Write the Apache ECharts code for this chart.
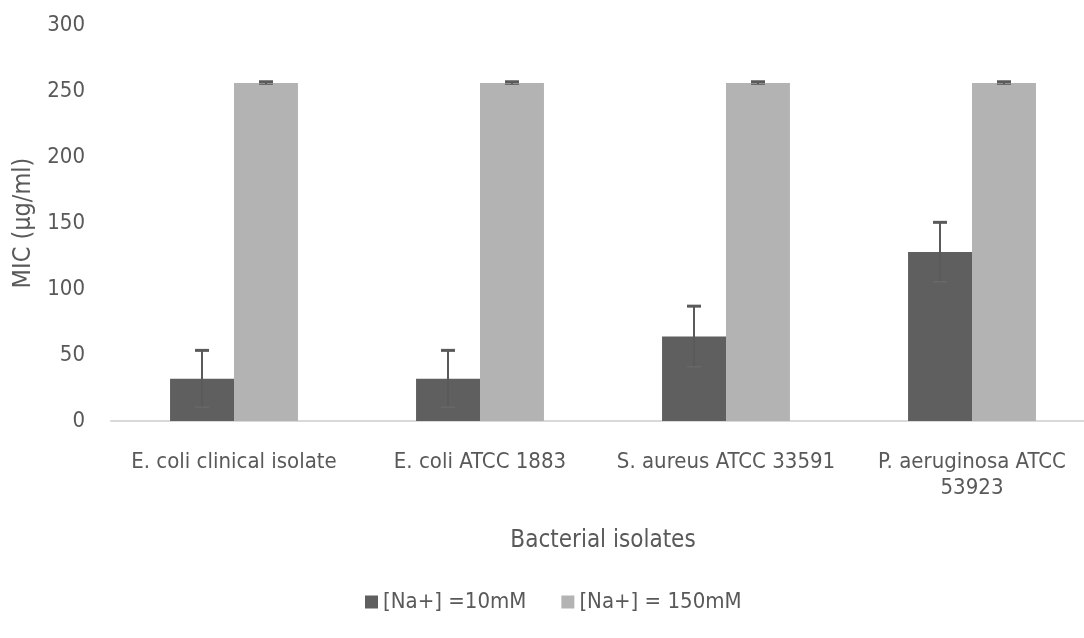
<!DOCTYPE html>
<html>
<head>
<meta charset="utf-8">
<script src="https://cdn.jsdelivr.net/npm/echarts@6/dist/echarts.min.js"></script>
<style>html,body{margin:0;padding:0;background:#fff}#c{width:1084px;height:638px}</style>
</head>
<body>
<div id="c"></div>
<script>
const categories = ['E. coli clinical isolate', 'E. coli ATCC 1883', 'S. aureus ATCC 33591', 'P. aeruginosa ATCC 53923'];
const seriesNames = ['[Na+] =10mM', '[Na+] = 150mM'];
const mic10 = [32, 32, 64, 128];
const err10 = [21.5, 21.5, 23, 22.5];
const mic150 = [256, 256, 256, 256];
const err150 = [1, 1, 1, 1];
const yTicks = [0, 50, 100, 150, 200, 250, 300];

const FONT = "'Liberation Sans Narrow','Arial Narrow','DejaVu Sans Condensed',sans-serif";
const TXT = '#595959';

function errData(vals, errs) {
  return vals.map((v, i) => [i, v - errs[i], v + errs[i]]);
}
function errSeries(vals, errs, side) {
  return {
    type: 'custom',
    z: 10,
    silent: true,
    encode: { x: 0, y: [1, 2] },
    data: errData(vals, errs),
    renderItem: function (params, api) {
      const band = api.size([1, 0])[0];
      const off = side * band * 0.13;
      const hi = api.coord([api.value(0), api.value(2)]);
      const lo = api.coord([api.value(0), api.value(1)]);
      const x = hi[0] + off;
      const cap = 7;
      const st = { stroke: '#5a5a5a', lineWidth: 2 };
      return {
        type: 'group',
        children: [
          { type: 'line', shape: { x1: x, y1: hi[1], x2: x, y2: lo[1] }, style: st },
          { type: 'line', shape: { x1: x - cap, y1: hi[1], x2: x + cap, y2: hi[1] }, style: { stroke: '#5a5a5a', lineWidth: 3 } },
          { type: 'line', shape: { x1: x - cap, y1: lo[1], x2: x + cap, y2: lo[1] }, style: { stroke: '#6a6a6a', lineWidth: 1.2 } }
        ]
      };
    }
  };
}

const chart = echarts.init(document.getElementById('c'));
chart.setOption({
  animation: false,
  textStyle: { fontFamily: FONT, color: TXT },
  grid: { left: 111, right: -11, top: 25, bottom: 217, outerBoundsMode: 'none', containLabel: false },
  legend: {
    left: 360, top: 586,
    icon: 'rect', itemWidth: 13, itemHeight: 13, itemGap: 35,
    textStyle: { fontFamily: FONT, fontSize: 22, color: TXT },
    data: seriesNames
  },
  xAxis: {
    type: 'category',
    data: categories,
    name: 'Bacterial isolates',
    nameLocation: 'middle',
    nameGap: 108,
    nameTextStyle: { fontFamily: FONT, fontSize: 24, color: TXT },
    axisLine: { lineStyle: { color: '#d9d9d9', width: 2 } },
    axisTick: { show: false },
    axisLabel: {
      interval: 0, margin: 28, fontSize: 22, lineHeight: 26, color: TXT, fontFamily: FONT,
      formatter: function (v) { return v.replace('ATCC 53923', 'ATCC\n53923'); }
    }
  },
  yAxis: {
    type: 'value',
    min: yTicks[0], max: yTicks[yTicks.length - 1], interval: yTicks[1] - yTicks[0],
    name: 'MIC (µg/ml)',
    nameLocation: 'middle',
    nameGap: 72,
    nameRotate: 90,
    nameTextStyle: { fontFamily: FONT, fontSize: 25, color: TXT },
    axisLine: { show: false },
    axisTick: { show: false },
    splitLine: { show: false },
    axisLabel: { margin: 26, fontSize: 22, color: TXT, fontFamily: FONT }
  },
  series: [
    { name: seriesNames[0], type: 'bar', data: mic10, barWidth: '26%', barGap: '0%', itemStyle: { color: '#5f5f5f' } },
    { name: seriesNames[1], type: 'bar', data: mic150, barWidth: '26%', barGap: '0%', itemStyle: { color: '#b3b3b3' } },
    errSeries(mic10, err10, -1),
    errSeries(mic150, err150, 1)
  ]
});
</script>
</body>
</html>
